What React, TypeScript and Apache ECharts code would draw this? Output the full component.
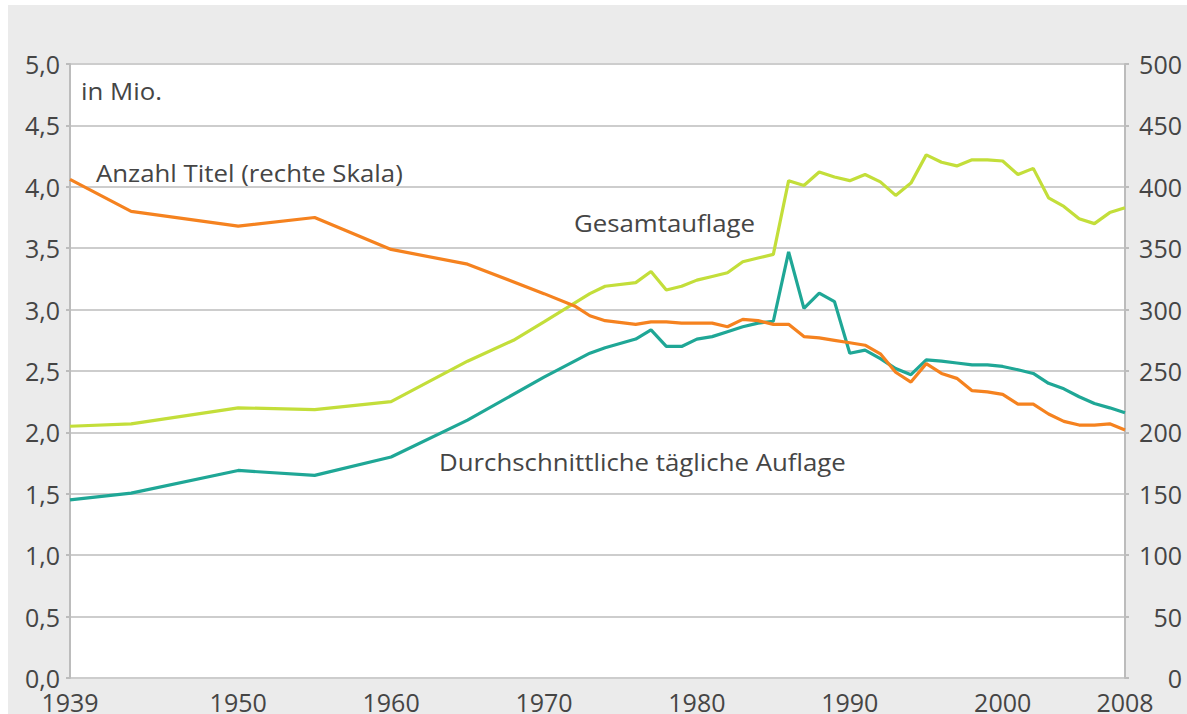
import React, { useEffect, useRef } from "react";
import * as echarts from "echarts";

// Years (x) and values
const totalYears = [1939, 1943, 1950, 1955, 1960, 1965, 1968, 1970, 1973, 1974, 1976, 1977, 1978, 1979, 1980, 1981, 1982, 1983, 1984, 1985, 1986, 1987, 1988, 1989, 1990, 1991, 1992, 1993, 1994, 1995, 1996, 1997, 1998, 1999, 2000, 2001, 2002, 2003, 2004, 2005, 2006, 2007, 2008];
const gesamtauflage = [2.05, 2.07, 2.2, 2.185, 2.25, 2.58, 2.75, 2.9, 3.13, 3.19, 3.22, 3.31, 3.16, 3.19, 3.24, 3.27, 3.3, 3.39, 3.42, 3.45, 4.05, 4.01, 4.12, 4.08, 4.05, 4.1, 4.04, 3.93, 4.03, 4.26, 4.2, 4.17, 4.22, 4.22, 4.21, 4.1, 4.15, 3.91, 3.84, 3.74, 3.7, 3.79, 3.83];

const dailyYears = [1939, 1943, 1950, 1955, 1960, 1965, 1970, 1973, 1974, 1976, 1977, 1978, 1979, 1980, 1981, 1982, 1983, 1984, 1985, 1986, 1987, 1988, 1989, 1990, 1991, 1992, 1993, 1994, 1995, 1996, 1997, 1998, 1999, 2000, 2001, 2002, 2003, 2004, 2005, 2006, 2007, 2008];
const taeglicheAuflage = [1.45, 1.505, 1.69, 1.65, 1.8, 2.1, 2.45, 2.645, 2.69, 2.76, 2.835, 2.7, 2.7, 2.76, 2.78, 2.82, 2.86, 2.89, 2.905, 3.47, 3.01, 3.135, 3.065, 2.645, 2.67, 2.6, 2.52, 2.47, 2.59, 2.58, 2.565, 2.55, 2.55, 2.537, 2.51, 2.48, 2.4, 2.355, 2.29, 2.235, 2.2, 2.16];

const titleYears = [1939, 1943, 1950, 1955, 1960, 1965, 1970, 1972, 1973, 1974, 1976, 1977, 1978, 1979, 1980, 1981, 1982, 1983, 1984, 1985, 1986, 1987, 1988, 1989, 1990, 1991, 1992, 1993, 1994, 1995, 1996, 1997, 1998, 1999, 2000, 2001, 2002, 2003, 2004, 2005, 2006, 2007, 2008];
const anzahlTitel = [406, 380, 368, 375, 349, 337, 313, 303, 295, 291, 288, 290, 290, 289, 289, 289, 286, 292, 291, 288, 288, 278, 277, 275, 273, 271, 264, 249, 241, 256, 248, 244, 234, 233, 231, 223, 223, 215, 209, 206, 206, 207, 202];

const xTickYears = [1939, 1950, 1960, 1970, 1980, 1990, 2000, 2008];

const FONT = "'Open Sans', Lato, sans-serif";
const TEXT = "#454545";

function pairs(xs: number[], ys: number[]) {
  return xs.map((x, i) => [x, ys[i]]);
}

export default function App() {
  const ref = useRef<HTMLDivElement>(null);
  useEffect(() => {
    if (!ref.current) return;
    const chart = echarts.init(ref.current, undefined, { renderer: "svg" });
    const axisGray = "#bcbcbc";
    const gridGray = "#cdcdcd";
    const note = (text: string, x: number, y: number) => ({
      type: "text",
      x,
      y,
      scaleX: 1.075,
      style: { text, fill: TEXT, font: `24px ${FONT}`, verticalAlign: "middle" },
    });
    chart.setOption({
      animation: false,
      backgroundColor: "#ebebeb",
      grid: {
        left: 62,
        right: 62,
        top: 59,
        bottom: 36,
        show: true,
        backgroundColor: "#ffffff",
        borderWidth: 0,
      },
      xAxis: {
        type: "value",
        min: 1939,
        max: 2008,
        axisLine: { show: false },
        axisTick: { show: false },
        splitLine: { show: false },
        axisLabel: {
          customValues: xTickYears,
          color: TEXT,
          fontFamily: FONT,
          fontSize: 25,
          margin: 11,
          formatter: (v: number) => String(v),
        },
      },
      yAxis: [
        {
          type: "value",
          min: 0,
          max: 5,
          interval: 0.5,
          axisLine: { show: true, lineStyle: { color: axisGray, width: 2 } },
          axisTick: { show: true, length: 4, lineStyle: { color: axisGray, width: 2 } },
          splitLine: { show: true, lineStyle: { color: gridGray, width: 2 } },
          axisLabel: {
            color: TEXT,
            fontFamily: FONT,
            fontSize: 25,
            margin: 10,
            formatter: (v: number) => v.toFixed(1).replace(".", ","),
          },
        },
        {
          type: "value",
          min: 0,
          max: 500,
          interval: 50,
          position: "right",
          axisLine: { show: true, lineStyle: { color: axisGray, width: 2 } },
          axisTick: { show: true, length: 4, lineStyle: { color: axisGray, width: 2 } },
          splitLine: { show: false },
          axisLabel: {
            color: TEXT,
            fontFamily: FONT,
            fontSize: 25,
            margin: 57,
            align: "right",
          },
        },
      ],
      series: [
        {
          name: "Gesamtauflage",
          type: "line",
          yAxisIndex: 0,
          showSymbol: false,
          data: pairs(totalYears, gesamtauflage),
          lineStyle: { color: "#c3de3a", width: 3.2 },
          itemStyle: { color: "#c3de3a" },
        },
        {
          name: "Durchschnittliche tägliche Auflage",
          type: "line",
          yAxisIndex: 0,
          showSymbol: false,
          data: pairs(dailyYears, taeglicheAuflage),
          lineStyle: { color: "#1fa796", width: 3.2 },
          itemStyle: { color: "#1fa796" },
        },
        {
          name: "Anzahl Titel",
          type: "line",
          yAxisIndex: 1,
          showSymbol: false,
          data: pairs(titleYears, anzahlTitel),
          lineStyle: { color: "#f5821f", width: 3.2 },
          itemStyle: { color: "#f5821f" },
        },
      ],
      graphic: [
        note("in Mio.", 73, 85),
        note("Anzahl Titel (rechte Skala)", 88, 167),
        note("Gesamtauflage", 566, 217),
        note("Durchschnittliche tägliche Auflage", 431, 456),
      ],
    });
    return () => chart.dispose();
  }, []);
  return (
    <div style={{ position: "absolute", left: 0, top: 0, width: 1187, height: 714, background: "#ffffff", overflow: "hidden" }}>
      <div ref={ref} style={{ position: "absolute", left: 8, top: 5, width: 1179, height: 709 }} />
    </div>
  );
}
